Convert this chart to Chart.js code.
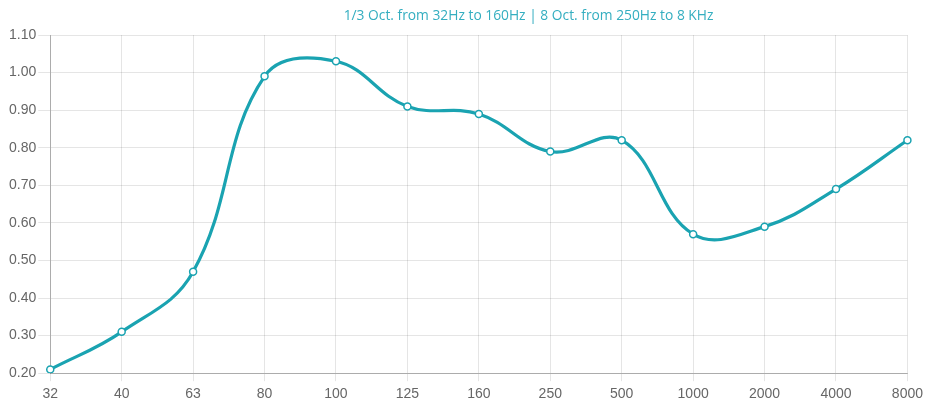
<!DOCTYPE html>
<html>
<head>
<meta charset="utf-8">
<script src="https://cdn.jsdelivr.net/npm/chart.js@4"></script>
<style>
html,body{margin:0;padding:0;background:#fff;}
#wrap{width:928px;height:408px;position:relative;}
</style>
</head>
<body>
<div id="wrap"><canvas id="c" width="928" height="408"></canvas></div>
<script>
const categories = ["32","40","63","80","100","125","160","250","500","1000","2000","4000","8000"];
const values = [0.21,0.31,0.47,0.99,1.03,0.91,0.89,0.79,0.82,0.57,0.59,0.69,0.82];
const titleText = "1/3 Oct. from 32Hz to 160Hz | 8 Oct. from 250Hz to 8 KHz";

const titlePlugin = {
  id: 'offsetTitle',
  afterDraw(chart) {
    const ctx = chart.ctx;
    const a = chart.chartArea;
    ctx.save();
    ctx.font = '13.8px "Open Sans"';
    ctx.fillStyle = '#34aec0';
    ctx.textAlign = 'center';
    ctx.textBaseline = 'middle';
    ctx.fillText(titleText, a.left + (a.right - a.left) * 0.558, 16);
    ctx.restore();
  }
};

new Chart(document.getElementById('c'), {
  type: 'line',
  data: {
    labels: categories,
    datasets: [{
      data: values,
      borderColor: '#1aa3b1',
      borderWidth: 3.2,
      tension: 0.4,
      fill: false,
      pointRadius: 3.5,
      pointBackgroundColor: '#ffffff',
      pointBorderColor: '#1aa3b1',
      pointBorderWidth: 1.5
    }]
  },
  plugins: [titlePlugin],
  options: {
    responsive: false,
    animation: false,
    devicePixelRatio: 1,
    layout: { padding: { left: 7, right: 12, top: 35, bottom: 0 } },
    plugins: {
      legend: { display: false },
      tooltip: { enabled: false },
      title: { display: false }
    },
    scales: {
      x: {
        offset: false,
        grid: { color: 'rgba(0,0,0,0.1)', tickLength: 8 },
        border: { color: 'rgba(0,0,0,0.25)' },
        ticks: { color: '#666', font: { family: 'Liberation Sans', size: 14 }, maxRotation: 0, padding: 5 }
      },
      y: {
        min: 0.2,
        max: 1.1,
        grid: { color: 'rgba(0,0,0,0.1)', tickLength: 12 },
        border: { color: 'rgba(0,0,0,0.25)' },
        ticks: {
          stepSize: 0.1,
          color: '#666',
          font: { family: 'Liberation Sans', size: 14 },
          padding: 2,
          callback: v => Number(v).toFixed(2)
        }
      }
    }
  }
});
</script>
</body>
</html>
